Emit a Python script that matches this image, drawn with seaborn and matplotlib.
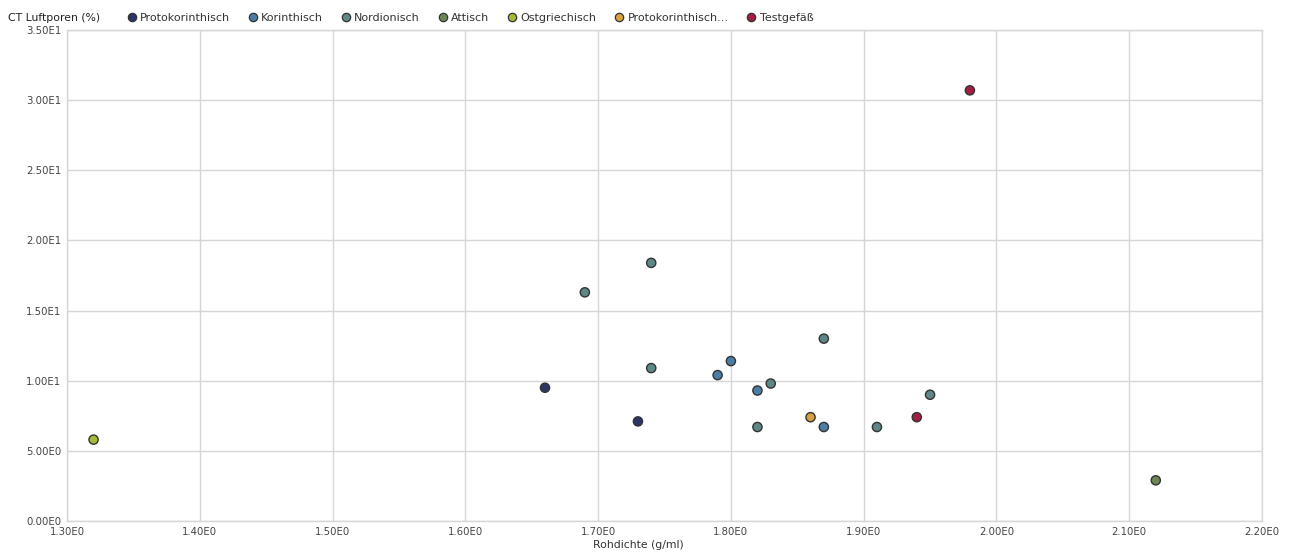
import matplotlib
matplotlib.use("Agg")
import matplotlib.pyplot as plt
import seaborn as sns
import pandas as pd
from matplotlib.ticker import FixedLocator, FuncFormatter
from matplotlib.lines import Line2D

# Groups and their colours
groups = ["Protokorinthisch", "Korinthisch", "Nordionisch", "Attisch",
          "Ostgriechisch", "Protokorinthisch...", "Testgefäß"]
colors = ["#2b3566", "#4a7ea6", "#5e8888", "#6c8556",
          "#a6b83a", "#d8a13f", "#a31f42"]

# Measurements: bulk density (g/ml) and CT air pores (%)
proto_x = [1.66, 1.73]
proto_y = [9.5, 7.1]
korinth_x = [1.79, 1.80, 1.82, 1.87]
korinth_y = [10.4, 11.4, 9.3, 6.7]
nordion_x = [1.69, 1.74, 1.74, 1.83, 1.87, 1.82, 1.91, 1.95]
nordion_y = [16.3, 18.4, 10.9, 9.8, 13.0, 6.7, 6.7, 9.0]
attisch_x = [2.12]
attisch_y = [2.9]
ostgr_x = [1.32]
ostgr_y = [5.8]
proto2_x = [1.86]
proto2_y = [7.4]
test_x = [1.94, 1.98]
test_y = [7.4, 30.7]

xs = [proto_x, korinth_x, nordion_x, attisch_x, ostgr_x, proto2_x, test_x]
ys = [proto_y, korinth_y, nordion_y, attisch_y, ostgr_y, proto2_y, test_y]

rows = []
for g, gx, gy in zip(groups, xs, ys):
    for a, b in zip(gx, gy):
        rows.append({"Rohdichte": a, "Luftporen": b, "Gruppe": g})
df = pd.DataFrame(rows)

x_ticks = [1.3, 1.4, 1.5, 1.6, 1.7, 1.8, 1.9, 2.0, 2.1, 2.2]
y_ticks = [0, 5, 10, 15, 20, 25, 30, 35]


def sci(v, _pos=None):
    s = f"{v:.2E}"
    mant, exp = s.split("E")
    return f"{mant}E{int(exp)}"


sns.set_theme(style="white")
plt.rcParams["font.family"] = ["DejaVu Sans"]

fig = plt.figure(figsize=(12.95, 5.54), dpi=100)
ax = fig.add_axes([67 / 1295, 1 - 521 / 554, (1262 - 67) / 1295, (521 - 30) / 554])

palette = dict(zip(groups, colors))
sns.scatterplot(data=df, x="Rohdichte", y="Luftporen", hue="Gruppe",
                hue_order=groups, palette=palette, s=44, edgecolor="#333333",
                linewidth=1.0, ax=ax, legend=False, zorder=3)

ax.set_xlim(1.3, 2.2)
ax.set_ylim(0, 35)
ax.xaxis.set_major_locator(FixedLocator(x_ticks))
ax.yaxis.set_major_locator(FixedLocator(y_ticks))
ax.xaxis.set_major_formatter(FuncFormatter(sci))
ax.yaxis.set_major_formatter(FuncFormatter(sci))
ax.grid(True, color="#d6d6d6", linewidth=1.0)
ax.set_axisbelow(True)
for side, sp in ax.spines.items():
    sp.set_color("#d6d6d6")
    sp.set_linewidth(1.0)
ax.tick_params(axis="both", length=0, labelsize=7.3, colors="#444444")
ax.tick_params(axis="x", pad=4)
ax.tick_params(axis="y", pad=4)
ax.set_xlabel("Rohdichte (g/ml)", fontsize=7.8, color="#333333")
ax.xaxis.set_label_coords(0.478, -0.038)
ax.set_ylabel("")

fig.text(8 / 1295, 1 - 18 / 554, "CT Luftporen (%)", fontsize=7.8,
         color="#222222", ha="left", va="center")

handles = [Line2D([], [], marker="o", linestyle="", markersize=6,
                  markerfacecolor=c, markeredgecolor="#333333",
                  markeredgewidth=0.9) for c in colors]
fig.legend(handles, groups, loc="center left",
           bbox_to_anchor=(126 / 1295, 1 - 18 / 554), ncol=7, frameon=False,
           fontsize=8, handletextpad=0.25, columnspacing=1.55,
           handlelength=1.0, borderpad=0, borderaxespad=0,
           labelcolor="#333333")

fig.savefig("out.png", dpi=100, facecolor="white")
